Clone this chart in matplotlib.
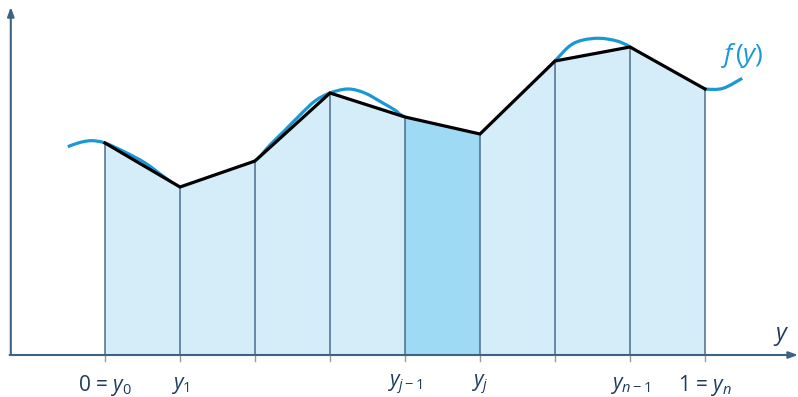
import matplotlib
matplotlib.use("Agg")
import matplotlib.pyplot as plt
import numpy as np
from matplotlib.path import Path
from matplotlib.patches import PathPatch, Polygon

plt.rcParams["font.family"] = ["Open Sans", "DejaVu Sans"]
plt.rcParams["mathtext.fontset"] = "custom"
plt.rcParams["mathtext.rm"] = "Open Sans"
plt.rcParams["mathtext.it"] = "Open Sans:italic"
plt.rcParams["mathtext.bf"] = "Open Sans:bold"

# Partition nodes y_0..y_n on [0, 1] and the heights f(y_k)
nodes = [0.0, 0.125, 0.25, 0.375, 0.5, 0.625, 0.75, 0.875, 1.0]
node_vals = [2.12, 1.68, 1.94, 2.62, 2.38, 2.21, 2.94, 3.08, 2.66]
highlight = 4  # the interval [y_{j-1}, y_j]

# Sampled points of the curve f(y)
curve_x = [-0.062, -0.042, -0.022, 0.0, 0.033, 0.067, 0.100, 0.125, 0.158,
           0.187, 0.217, 0.250, 0.275, 0.297, 0.325, 0.350, 0.375, 0.405,
           0.433, 0.463, 0.483, 0.500, 0.558, 0.592, 0.625, 0.658, 0.692,
           0.725, 0.750, 0.775, 0.797, 0.825, 0.853, 0.875, 0.908, 0.942,
           0.975, 1.000, 1.030, 1.062]
curve_y = [2.083, 2.125, 2.143, 2.12, 2.03, 1.92, 1.775, 1.68, 1.71,
           1.77, 1.85, 1.94, 2.10, 2.23, 2.40, 2.54, 2.62, 2.66,
           2.62, 2.52, 2.45, 2.38, 2.24, 2.19, 2.21, 2.33, 2.52,
           2.77, 2.94, 3.093, 3.15, 3.167, 3.14, 3.08, 2.93, 2.79,
           2.69, 2.66, 2.667, 2.767]

tick_labels = {0: r"0 = $y_0$", 1: r"$y_1$", 4: r"$y_{j-1}$", 5: r"$y_j$",
               7: r"$y_{n-1}$", 8: r"1 = $y_n$"}

C_CURVE = "#1a98d5"
C_FILL = "#d5ecf9"
C_FILL_DARK = "#9fdaf5"
C_EDGE = "#4b6d8c"
C_AXIS = "#3c6284"
C_TEXT = "#1e3c5e"


def smooth_path(xs, ys):
    """Catmull-Rom through the points, expressed as cubic Bezier segments."""
    pts = np.column_stack([xs, ys])
    verts = [pts[0]]
    codes = [Path.MOVETO]
    n = len(pts)
    for i in range(n - 1):
        p0 = pts[max(i - 1, 0)]
        p1 = pts[i]
        p2 = pts[i + 1]
        p3 = pts[min(i + 2, n - 1)]
        c1 = p1 + (p2 - p0) / 6.0
        c2 = p2 - (p3 - p1) / 6.0
        verts += [c1, c2, p2]
        codes += [Path.CURVE4] * 3
    return Path(verts, codes)


fig = plt.figure(figsize=(7.98, 3.97), dpi=100)
ax = fig.add_axes([0, 0, 1, 1])
ax.set_xlim(-0.175, 1.155)
ax.set_ylim(-0.42, 3.55)
ax.axis("off")

# the curve sits underneath the trapezoids
ax.add_patch(PathPatch(smooth_path(curve_x, curve_y), fill=False,
                       edgecolor=C_CURVE, lw=2.3, capstyle="butt", zorder=1))

# trapezoids
for k in range(len(nodes) - 1):
    x0, x1 = nodes[k], nodes[k + 1]
    f0, f1 = node_vals[k], node_vals[k + 1]
    color = C_FILL_DARK if k == highlight else C_FILL
    ax.add_patch(Polygon([(x0, 0), (x0, f0), (x1, f1), (x1, 0)], closed=True,
                         facecolor=color, edgecolor="none", zorder=2))

for x, f in zip(nodes, node_vals):
    ax.plot([x, x], [0, f], color=C_EDGE, lw=1.1, zorder=3)

ax.plot(nodes, node_vals, color="black", lw=2.3, solid_joinstyle="miter",
        zorder=4)

# tick marks below the axis
for x in nodes:
    ax.plot([x, x], [0, -0.06], color="#9a9a9a", lw=1.0, zorder=3)

# axes with arrow heads
x_axis0 = -0.157
ax.annotate("", xy=(1.155, 0), xytext=(x_axis0 - 0.002, 0),
            arrowprops=dict(arrowstyle="-|>,head_length=0.55,head_width=0.2",
                            color=C_AXIS, lw=1.5, shrinkA=0, shrinkB=0),
            zorder=5)
ax.annotate("", xy=(x_axis0, 3.48), xytext=(x_axis0, 0),
            arrowprops=dict(arrowstyle="-|>,head_length=0.55,head_width=0.2",
                            color=C_AXIS, lw=1.5, shrinkA=0, shrinkB=0),
            zorder=5)

for k, lab in tick_labels.items():
    ax.text(nodes[k], -0.30, lab, ha="center", va="center", fontsize=15,
            color=C_TEXT)

ax.text(1.127, 0.19, r"$y$", ha="center", va="center", fontsize=17,
        color=C_TEXT)
ax.text(1.062, 3.0, r"$f\,(y)$", ha="center", va="center", fontsize=19,
        color=C_CURVE)

fig.savefig("out.png", dpi=100)
